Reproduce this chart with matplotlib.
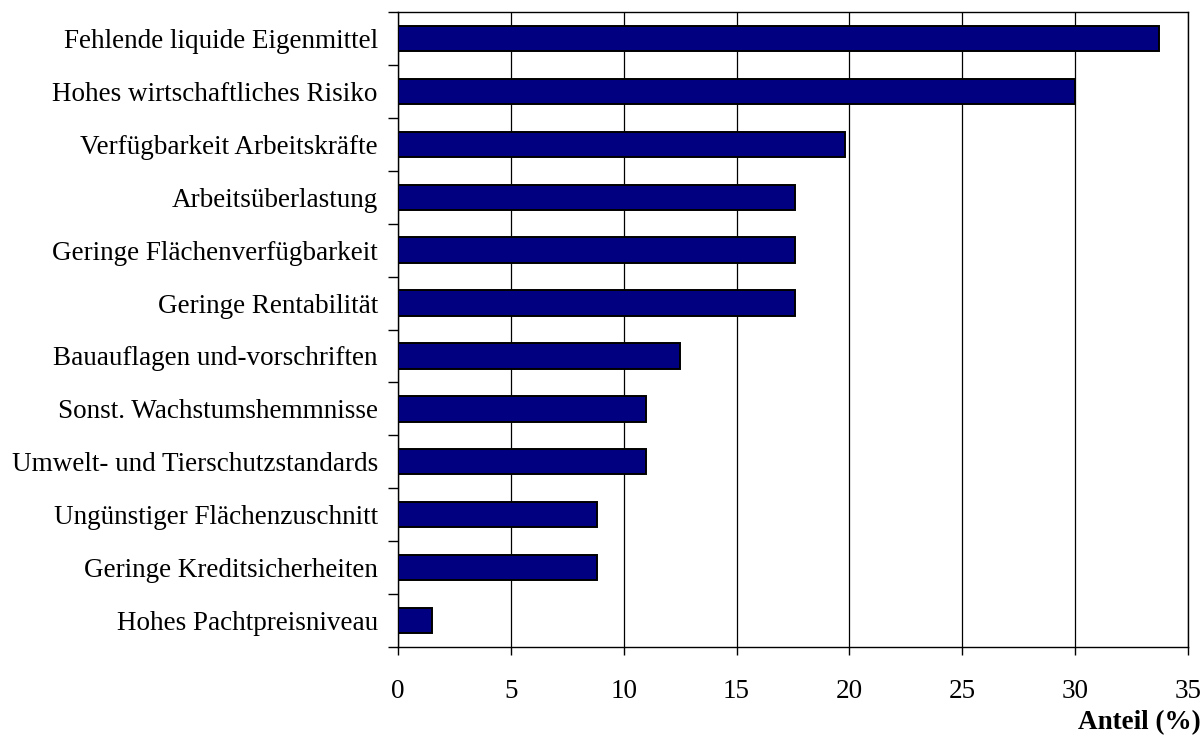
import matplotlib
matplotlib.use("Agg")
import matplotlib.pyplot as plt
import numpy as np

categories = [
    "Fehlende liquide Eigenmittel",
    "Hohes wirtschaftliches Risiko",
    "Verfügbarkeit Arbeitskräfte",
    "Arbeitsüberlastung",
    "Geringe Flächenverfügbarkeit",
    "Geringe Rentabilität",
    "Bauauflagen und-vorschriften",
    "Sonst. Wachstumshemmnisse",
    "Umwelt- und Tierschutzstandards",
    "Ungünstiger Flächenzuschnitt",
    "Geringe Kreditsicherheiten",
    "Hohes Pachtpreisniveau",
]
values = [33.7, 30.0, 19.8, 17.6, 17.6, 17.6, 12.5, 11.0, 11.0, 8.8, 8.8, 1.5]
xticks = [0, 5, 10, 15, 20, 25, 30, 35]
xlabel = "Anteil (%)"

plt.rcParams['font.family'] = ['Liberation Serif', 'DejaVu Serif']
FS = 19.5

fig = plt.figure(figsize=(12.03, 7.37), dpi=100)
ax = fig.add_axes([398/1203, 1-647/737, (1188-398)/1203, (647-12)/737])

n = len(categories)
ypos = np.arange(n)[::-1]
ax.barh(ypos, values, height=0.48, color="#000080", edgecolor="black", linewidth=1.4, zorder=3)

ax.set_xlim(0, 35)
ax.set_ylim(-0.5, n - 0.5)
ax.set_xticks(xticks)
ax.set_xticklabels([str(t) for t in xticks], fontsize=FS)
ax.tick_params(axis='x', direction='out', length=6, width=1, pad=17)

# y ticks at category boundaries, labels at centers
ax.set_yticks(np.arange(-0.5, n, 1.0))
ax.set_yticklabels([])
ax.set_yticks(ypos, minor=True)
ax.set_yticklabels(categories, minor=True, fontsize=FS)
ax.tick_params(axis='y', which='major', direction='out', length=7, width=1)
ax.tick_params(axis='y', which='minor', length=0, pad=14.5)

ax.grid(axis='x', color='black', linewidth=0.9, zorder=0)
for s in ax.spines.values():
    s.set_linewidth(1.0)
    s.set_color('black')

fig.text(1201/1203, 1-723/737, xlabel, ha='right', va='center', fontsize=FS, fontweight='bold')

fig.savefig("out.png", dpi=100)
